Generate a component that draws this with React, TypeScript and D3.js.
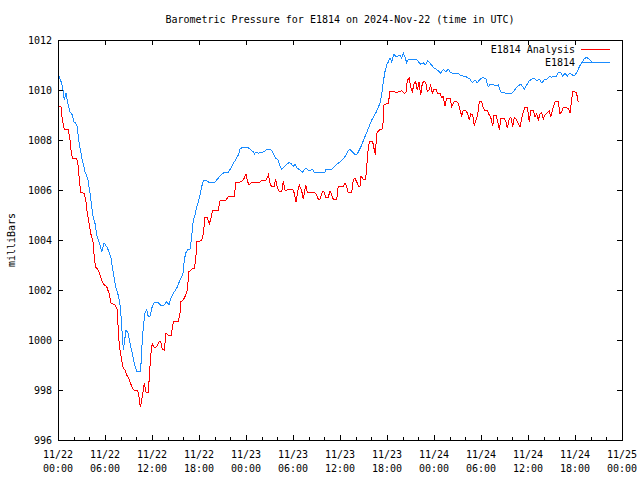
import React from "react";
import * as d3 from "d3";

// ---------- DATA ----------
// hours since 2024-11-22 00:00 UTC
const obsHours = [0.13,0.47,0.68,0.80,1.02,1.24,1.53,1.83,2.04,2.26,2.46,2.59,2.81,3.10,3.45,3.79,4.09,4.30,4.51,4.72,4.94,5.14,5.36,5.58,5.87,6.22,6.51,6.77,7.06,7.37,7.62,7.83,8.00,8.13,8.34,8.46,8.68,8.97,9.19,9.49,9.74,10.05,10.47,10.60,10.76,10.94,11.11,11.32,11.53,11.74,11.96,12.26,12.80,13.11,13.53,13.88,14.17,14.39,14.72,15.15,15.49,15.79,16.00,16.12,16.30,16.51,16.85,17.02,17.14,17.27,17.49,17.71,17.91,18.13,18.34,18.55,18.86,19.19,20.04,20.46,20.77,21.19,21.74,22.05,22.38,22.72,23.02,23.23,23.53,24.22,24.64,24.93,25.06,25.28,25.57,25.91,26.30,26.64,27.15,27.48,27.79,28.12,28.34,28.56,28.85,29.20,29.53,29.83,30.04,30.26,30.55,30.89,31.19,31.44,31.66,31.95,32.17,32.46,32.72,34.09,34.21,34.94,35.23,35.58,35.87,36.13,36.42,36.77,37.06,37.28,37.57,37.91,38.21,38.46,38.77,39.10,39.41,39.70,40.05,40.60,41.11,41.32,41.53,41.74,41.96,42.17,42.38,42.60,42.89,43.15,43.44,43.66,43.88,44.08,44.30,44.51,44.72,45.79,46.00,46.30,46.63,46.94,47.19,47.49,47.91,48.26,48.55,48.86,49.19,49.49,49.82,50.13,50.46,51.10,51.32,51.74,52.25,52.60,52.89,53.23,53.53,53.87,54.29,54.64,54.93,55.15,55.57,55.79,56.21,56.52,56.85,57.28,57.61,57.92,58.12,58.47,58.76,59.07,59.32,59.53,59.83,60.17,60.47,60.80,61.11,61.44,61.75,62.08,62.39,62.72,63.03,63.32,63.57,63.87,64.17,64.43,64.72,65.02,65.36,65.71,66.00,66.29,66.55,66.85,67.15,67.49,67.82,68.13];
const obsPressure = [1010.56,1010.27,1009.93,1009.6,1009.89,1009.47,1009.13,1009.0,1008.73,1008.67,1008.53,1008.13,1007.67,1007.2,1006.73,1006.47,1005.87,1005.33,1004.87,1004.67,1004.2,1004.0,1003.8,1003.53,1003.89,1003.73,1003.53,1003.27,1002.67,1002.13,1001.87,1001.6,1001.2,1000.53,999.6,999.87,1000.4,1000.27,999.87,999.47,999.07,998.73,998.73,999.07,1000.0,1000.67,1001.07,1001.2,1000.93,1000.93,1001.27,1001.49,1001.49,1001.4,1001.4,1001.53,1001.4,1001.67,1001.87,1002.07,1002.33,1002.53,1002.73,1003.2,1003.47,1003.6,1003.63,1004.0,1004.4,1004.8,1005.0,1005.33,1005.53,1005.8,1006.13,1006.37,1006.4,1006.32,1006.32,1006.47,1006.6,1006.69,1006.71,1006.87,1007.07,1007.23,1007.4,1007.63,1007.71,1007.71,1007.6,1007.53,1007.44,1007.52,1007.47,1007.5,1007.53,1007.63,1007.63,1007.47,1007.27,1007.2,1006.96,1006.83,1006.91,1007.03,1007.11,1007.03,1006.93,1007.04,1006.87,1006.8,1006.71,1006.8,1006.89,1006.8,1006.77,1006.83,1006.71,1006.72,1006.83,1006.83,1006.93,1007.03,1007.09,1007.17,1007.24,1007.4,1007.57,1007.63,1007.53,1007.43,1007.44,1007.6,1007.8,1008.07,1008.29,1008.53,1008.8,1009.1,1009.47,1009.8,1010.33,1010.73,1011.0,1011.13,1011.27,1011.13,1011.44,1011.33,1011.36,1011.4,1011.27,1011.49,1011.31,1011.09,1011.23,1011.23,1011.13,1011.04,1011.09,1011.0,1011.17,1011.07,1010.91,1010.83,1010.77,1010.67,1010.83,1010.73,1010.83,1010.69,1010.67,1010.67,1010.6,1010.56,1010.51,1010.43,1010.29,1010.4,1010.29,1010.43,1010.51,1010.43,1010.13,1010.22,1010.22,1010.16,1010.2,1009.93,1009.89,1009.87,1009.84,1009.87,1009.93,1010.07,1010.16,1010.24,1010.13,1010.03,1010.2,1010.37,1010.43,1010.47,1010.37,1010.43,1010.29,1010.4,1010.43,1010.53,1010.51,1010.56,1010.53,1010.71,1010.69,1010.56,1010.67,1010.56,1010.67,1010.59,1010.6,1010.73,1010.93,1011.09,1011.23,1011.31,1011.23,1011.12];

const anaHours = [0.13,0.38,0.55,0.80,1.31,1.53,1.66,1.83,2.39,2.59,2.72,2.90,3.32,3.54,3.74,3.96,4.17,4.51,4.63,4.81,5.14,5.36,5.66,5.91,6.22,6.51,6.77,7.28,7.53,7.62,7.75,7.91,8.13,8.34,8.55,8.77,8.97,9.19,9.49,9.74,10.17,10.34,10.51,10.69,10.89,11.02,11.20,11.53,11.71,11.87,12.04,12.17,12.47,12.73,12.89,13.11,13.31,13.57,13.79,14.08,14.46,14.72,15.36,15.57,15.70,16.00,16.30,16.51,16.72,17.07,17.40,17.58,17.71,18.34,18.55,18.77,19.06,19.31,19.53,19.75,20.46,20.68,21.45,21.74,22.47,22.72,23.45,23.78,24.00,24.22,24.38,24.73,25.79,26.00,26.55,26.85,27.12,27.31,27.57,27.79,27.99,28.25,28.56,28.76,28.98,29.27,29.53,29.96,30.17,30.38,30.60,30.80,31.11,31.31,31.62,31.83,32.81,33.03,33.23,33.45,33.74,33.96,34.17,34.51,34.72,34.94,35.14,35.58,35.78,36.42,36.64,36.85,37.06,37.49,37.70,37.91,38.13,38.34,38.55,38.68,38.97,39.28,39.41,39.54,39.74,40.17,40.38,40.51,40.68,41.02,41.45,41.62,41.87,42.17,42.38,42.80,43.24,43.66,43.88,44.17,44.42,44.59,44.85,45.02,45.23,45.45,45.66,45.87,46.09,46.30,46.51,46.72,46.94,47.14,47.36,47.58,47.78,48.00,48.26,48.47,48.77,48.98,49.19,49.40,49.62,50.04,50.26,50.55,50.90,51.10,51.32,51.54,51.74,51.96,52.25,52.51,52.68,52.94,53.14,53.36,53.58,53.78,54.09,54.29,54.51,54.80,55.06,55.25,55.50,55.66,55.91,56.10,56.34,56.55,56.94,57.19,57.36,57.61,57.83,58.05,58.25,58.47,58.76,58.98,59.19,59.40,59.62,59.91,60.17,60.34,60.68,60.89,61.11,61.32,61.53,61.75,61.95,62.17,62.46,62.72,62.90,63.15,63.45,63.87,64.09,64.30,64.51,65.15,65.36,65.49,65.71,66.00,66.21,66.34,66.42];
const anaPressure = [1009.36,1009.33,1008.8,1008.44,1008.43,1008.0,1007.6,1007.27,1007.25,1006.93,1006.4,1005.91,1005.87,1005.6,1005.07,1004.67,1004.27,1003.89,1003.27,1002.91,1002.8,1002.6,1002.33,1002.2,1002.13,1001.87,1001.47,1001.4,1001.27,1000.87,1000.07,999.6,999.2,998.87,998.8,998.6,998.51,998.33,998.07,998.0,998.0,997.73,997.31,997.6,998.0,998.27,997.93,997.89,998.8,999.47,999.89,999.73,999.69,999.8,999.93,999.93,999.63,999.6,1000.27,1000.2,1000.2,1000.73,1000.73,1001.07,1001.53,1001.6,1001.8,1002.0,1002.73,1002.83,1002.87,1003.2,1003.93,1003.97,1004.27,1004.91,1004.91,1004.64,1004.87,1005.2,1005.2,1005.57,1005.6,1005.73,1005.73,1006.29,1006.33,1006.47,1006.64,1006.33,1006.19,1006.32,1006.32,1006.4,1006.4,1006.6,1006.2,1006.13,1006.13,1006.43,1006.13,1005.93,1005.93,1006.36,1006.0,1006.0,1006.03,1006.03,1005.87,1005.53,1005.93,1006.2,1005.97,1005.63,1006.2,1005.89,1005.89,1005.8,1005.63,1005.63,1005.93,1005.93,1005.71,1005.71,1005.97,1005.8,1005.63,1005.63,1006.16,1006.16,1006.29,1006.13,1005.89,1005.89,1006.4,1006.47,1006.33,1006.16,1006.16,1006.56,1006.43,1006.43,1006.93,1007.47,1007.93,1007.93,1007.6,1007.4,1008.27,1008.4,1008.45,1009.4,1009.44,1009.47,1009.93,1009.93,1009.91,1009.93,1009.97,1009.87,1009.89,1010.4,1010.47,1010.13,1009.93,1010.24,1010.33,1010.0,1010.33,1009.8,1010.27,1010.33,1010.31,1009.93,1010.0,1010.2,1009.87,1010.03,1010.03,1009.87,1009.87,1009.71,1009.73,1009.36,1009.67,1009.67,1009.33,1009.53,1009.53,1009.47,1009.2,1008.96,1009.2,1009.2,1009.09,1008.8,1009.04,1009.0,1008.56,1008.8,1009.0,1009.53,1009.53,1009.27,1009.17,1009.17,1009.0,1008.9,1008.55,1009.0,1009.0,1008.8,1008.4,1008.87,1008.87,1008.73,1008.47,1008.87,1008.89,1008.51,1008.89,1008.83,1008.67,1008.51,1008.87,1009.13,1009.31,1009.31,1008.73,1009.17,1009.17,1008.93,1009.04,1008.8,1009.04,1009.09,1008.83,1009.0,1009.09,1009.17,1008.93,1009.23,1009.53,1009.53,1009.04,1009.13,1009.31,1009.27,1009.07,1009.4,1009.93,1009.93,1009.87,1009.63,1009.53];

const yTicks = [996, 998, 1000, 1002, 1004, 1006, 1008, 1010, 1012];
const xTickHours = [0, 6, 12, 18, 24, 30, 36, 42, 48, 54, 60, 66, 72];
const xTickDates = ["11/22", "11/22", "11/22", "11/22", "11/23", "11/23", "11/23", "11/23", "11/24", "11/24", "11/24", "11/24", "11/25"];
const xTickTimes = ["00:00", "06:00", "12:00", "18:00", "00:00", "06:00", "12:00", "18:00", "00:00", "06:00", "12:00", "18:00", "00:00"];
const seriesNames = ["E1814 Analysis", "E1814"];
const titleText = "Barometric Pressure for E1814 on 2024-Nov-22 (time in UTC)";
const yLabelText = "milliBars";

// ---------- CHART ----------
const W = 640, H = 480;
const L = 58, R = 622, T = 40, B = 440;
const FONT = "'DejaVu Sans Mono', 'Liberation Mono', monospace";
const RED = "#ff0000";
const BLUE = "#1a8cff";

export default function App() {
  const x = d3.scaleLinear().domain([0, 72]).range([L, R]);
  const y = d3.scaleLinear().domain([996, 1012]).range([B, T]);
  const line = d3.line<[number, number]>().x(d => x(d[0])).y(d => y(d[1]));
  const obs: [number, number][] = obsHours.map((h, i) => [h, obsPressure[i]]);
  const ana: [number, number][] = anaHours.map((h, i) => [h, anaPressure[i]]);
  const minor = d3.range(0, 73, 2).filter(h => h % 6 !== 0);

  return (
    <svg width={W} height={H} style={{ display: "block", position: "absolute", left: 0, top: 0, background: "#fff" }}
      fontFamily={FONT} fontSize={10}>
      <rect x={0} y={0} width={W} height={H} fill="#fff" />
      <text x={340} y={23} textAnchor="middle" fill="#000">{titleText}</text>
      <text transform={`translate(15,${(T + B) / 2}) rotate(-90)`} textAnchor="middle" fill="#000">{yLabelText}</text>
      <g shapeRendering="crispEdges" stroke="#000" strokeWidth={1}>
        {yTicks.map(v => (
          <g key={"y" + v}>
            <line x1={L} x2={L + 5} y1={Math.round(y(v)) + 0.5} y2={Math.round(y(v)) + 0.5} />
            <line x1={R - 5} x2={R} y1={Math.round(y(v)) + 0.5} y2={Math.round(y(v)) + 0.5} />
          </g>
        ))}
        {xTickHours.map(h => (
          <g key={"x" + h}>
            <line x1={Math.round(x(h)) + 0.5} x2={Math.round(x(h)) + 0.5} y1={B} y2={B - 5} />
            <line x1={Math.round(x(h)) + 0.5} x2={Math.round(x(h)) + 0.5} y1={T} y2={T + 5} />
          </g>
        ))}
        {minor.map(h => (
          <line key={"m" + h} x1={Math.round(x(h)) + 0.5} x2={Math.round(x(h)) + 0.5} y1={B} y2={B - 3} />
        ))}
      </g>
      {yTicks.map(v => (
        <text key={"yl" + v} x={L - 6} y={y(v)} dy="0.35em" textAnchor="end" fill="#000">{v}</text>
      ))}
      {xTickHours.map((h, i) => (
        <g key={"xl" + h}>
          <text x={x(h)} y={B + 18} textAnchor="middle" fill="#000">{xTickDates[i]}</text>
          <text x={x(h)} y={B + 32} textAnchor="middle" fill="#000">{xTickTimes[i]}</text>
        </g>
      ))}
      <path d={line(obs) || ""} fill="none" stroke={BLUE} strokeWidth={1} shapeRendering="crispEdges" />
      <path d={line(ana) || ""} fill="none" stroke={RED} strokeWidth={1} shapeRendering="crispEdges" />
      <rect x={L + 0.5} y={T + 0.5} width={R - L} height={B - T} fill="none" stroke="#000" strokeWidth={1} shapeRendering="crispEdges" />
      <g>
        <text x={575} y={49} dy="0.35em" textAnchor="end" fill="#000">{seriesNames[0]}</text>
        <line x1={581} x2={610} y1={49.5} y2={49.5} stroke={RED} strokeWidth={1} shapeRendering="crispEdges" />
        <text x={575} y={62} dy="0.35em" textAnchor="end" fill="#000">{seriesNames[1]}</text>
        <line x1={581} x2={610} y1={62.5} y2={62.5} stroke={BLUE} strokeWidth={1} shapeRendering="crispEdges" />
      </g>
    </svg>
  );
}
